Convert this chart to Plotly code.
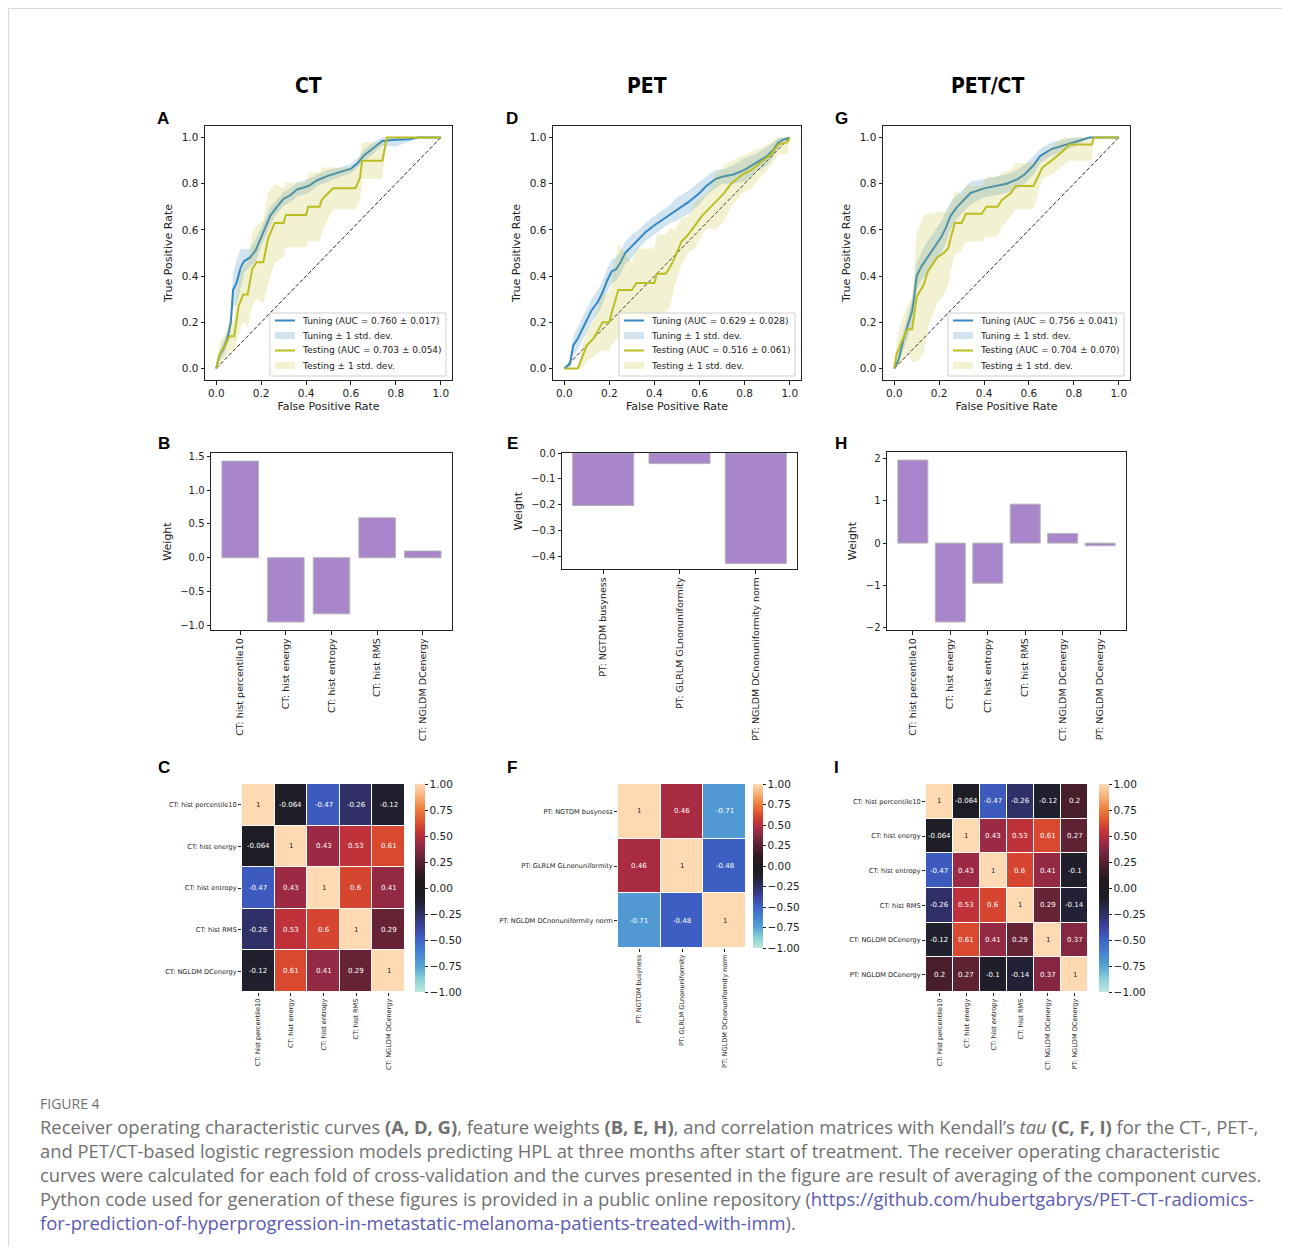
import plotly.graph_objects as go

W, H, OFF = 1274, 1238, 8
def px(x): return (x - OFF) / W
def py(y): return 1 - (y - OFF) / H

FONT = "DejaVu Sans"
TXT = "#222222"

# ---------------- ROC data (mean fpr/tpr and std) ----------------
ct_tune_fpr = [0.0, 0.015, 0.03, 0.05, 0.065, 0.075, 0.09, 0.11, 0.125, 0.15, 0.175, 0.2, 0.22, 0.24, 0.27, 0.30, 0.33, 0.36, 0.41, 0.45, 0.5, 0.55, 0.6, 0.63, 0.66, 0.7, 0.74, 0.8, 0.86, 0.9, 1.0]
ct_tune_tpr = [0.0, 0.06, 0.08, 0.13, 0.2, 0.34, 0.37, 0.44, 0.465, 0.48, 0.51, 0.57, 0.61, 0.66, 0.70, 0.735, 0.75, 0.775, 0.79, 0.815, 0.835, 0.85, 0.865, 0.89, 0.925, 0.955, 0.985, 0.99, 0.993, 1.0, 1.0]
ct_tune_sd = [0.0, 0.02, 0.03, 0.03, 0.04, 0.07, 0.1, 0.08, 0.05, 0.04, 0.05, 0.04, 0.04, 0.04, 0.03, 0.03, 0.03, 0.03, 0.03, 0.025, 0.025, 0.02, 0.02, 0.02, 0.025, 0.025, 0.02, 0.03, 0.01, 0.0, 0.0]
ct_test_fpr = [0.0, 0.015, 0.04, 0.06, 0.08, 0.1, 0.12, 0.14, 0.16, 0.18, 0.21, 0.23, 0.26, 0.3, 0.31, 0.4, 0.41, 0.46, 0.47, 0.5, 0.52, 0.62, 0.64, 0.65, 0.74, 0.76, 1.0]
ct_test_tpr = [0.0, 0.06, 0.1, 0.14, 0.14, 0.27, 0.32, 0.32, 0.43, 0.46, 0.46, 0.56, 0.63, 0.63, 0.665, 0.665, 0.70, 0.70, 0.73, 0.76, 0.78, 0.78, 0.825, 0.90, 0.90, 1.0, 1.0]
ct_test_sd = [0.0, 0.05, 0.05, 0.06, 0.07, 0.12, 0.12, 0.14, 0.16, 0.16, 0.18, 0.2, 0.17, 0.15, 0.14, 0.14, 0.15, 0.15, 0.14, 0.11, 0.09, 0.09, 0.1, 0.08, 0.08, 0.0, 0.0]

pet_tune_fpr = [0.0, 0.025, 0.04, 0.06, 0.08, 0.1, 0.12, 0.15, 0.17, 0.19, 0.21, 0.23, 0.25, 0.27, 0.3, 0.33, 0.36, 0.4, 0.43, 0.47, 0.5, 0.55, 0.6, 0.63, 0.67, 0.7, 0.75, 0.8, 0.85, 0.9, 0.93, 0.95, 0.97, 1.0]
pet_tune_tpr = [0.0, 0.02, 0.1, 0.13, 0.17, 0.21, 0.25, 0.29, 0.33, 0.38, 0.42, 0.43, 0.46, 0.50, 0.53, 0.56, 0.59, 0.62, 0.64, 0.67, 0.69, 0.72, 0.76, 0.79, 0.82, 0.83, 0.84, 0.86, 0.89, 0.92, 0.95, 0.98, 0.99, 1.0]
pet_tune_sd = [0.0, 0.02, 0.04, 0.05, 0.05, 0.05, 0.05, 0.05, 0.05, 0.05, 0.05, 0.05, 0.05, 0.05, 0.05, 0.04, 0.04, 0.04, 0.04, 0.04, 0.05, 0.05, 0.05, 0.04, 0.04, 0.03, 0.04, 0.05, 0.04, 0.04, 0.03, 0.02, 0.01, 0.0]
pet_test_fpr = [0.0, 0.06, 0.08, 0.1, 0.13, 0.17, 0.2, 0.21, 0.24, 0.3, 0.32, 0.4, 0.41, 0.45, 0.47, 0.49, 0.52, 0.55, 0.58, 0.61, 0.64, 0.67, 0.71, 0.74, 0.79, 0.83, 0.88, 0.92, 0.95, 0.99, 1.0]
pet_test_tpr = [0.0, 0.0, 0.05, 0.1, 0.13, 0.2, 0.2, 0.24, 0.34, 0.34, 0.37, 0.37, 0.41, 0.41, 0.44, 0.48, 0.55, 0.58, 0.62, 0.66, 0.69, 0.72, 0.76, 0.8, 0.84, 0.86, 0.9, 0.93, 0.97, 0.98, 1.0]
pet_test_sd = [0.0, 0.0, 0.05, 0.07, 0.08, 0.12, 0.13, 0.14, 0.2, 0.12, 0.15, 0.15, 0.17, 0.17, 0.17, 0.12, 0.1, 0.08, 0.1, 0.08, 0.08, 0.12, 0.12, 0.1, 0.08, 0.08, 0.06, 0.05, 0.04, 0.05, 0.0]

petct_tune_fpr = [0.0, 0.02, 0.04, 0.06, 0.08, 0.09, 0.1, 0.12, 0.14, 0.17, 0.19, 0.21, 0.23, 0.25, 0.28, 0.31, 0.34, 0.4, 0.45, 0.5, 0.55, 0.58, 0.62, 0.65, 0.7, 0.8, 0.87, 1.0]
petct_tune_tpr = [0.0, 0.04, 0.12, 0.18, 0.25, 0.32, 0.4, 0.44, 0.47, 0.51, 0.54, 0.57, 0.61, 0.66, 0.70, 0.73, 0.76, 0.78, 0.79, 0.80, 0.82, 0.84, 0.88, 0.92, 0.95, 0.98, 1.0, 1.0]
petct_tune_sd = [0.0, 0.02, 0.04, 0.05, 0.05, 0.06, 0.06, 0.06, 0.07, 0.07, 0.07, 0.07, 0.07, 0.06, 0.05, 0.05, 0.05, 0.04, 0.04, 0.04, 0.04, 0.04, 0.04, 0.03, 0.03, 0.02, 0.0, 0.0]
petct_test_fpr = [0.0, 0.01, 0.03, 0.05, 0.06, 0.08, 0.1, 0.13, 0.15, 0.17, 0.19, 0.22, 0.24, 0.25, 0.27, 0.3, 0.32, 0.39, 0.41, 0.46, 0.48, 0.52, 0.54, 0.62, 0.64, 0.66, 0.7, 0.75, 0.78, 0.88, 0.89, 1.0]
petct_test_tpr = [0.0, 0.06, 0.11, 0.15, 0.17, 0.17, 0.31, 0.36, 0.42, 0.45, 0.48, 0.5, 0.52, 0.56, 0.63, 0.63, 0.67, 0.67, 0.70, 0.70, 0.73, 0.76, 0.79, 0.79, 0.83, 0.87, 0.90, 0.94, 0.97, 0.97, 1.0, 1.0]
petct_test_sd = [0.0, 0.05, 0.09, 0.1, 0.1, 0.14, 0.28, 0.3, 0.25, 0.22, 0.2, 0.18, 0.16, 0.14, 0.14, 0.12, 0.12, 0.12, 0.13, 0.13, 0.12, 0.1, 0.1, 0.1, 0.07, 0.05, 0.06, 0.06, 0.07, 0.07, 0.0, 0.0]

auc_tuning = [0.760, 0.629, 0.756]
auc_tuning_sd = [0.017, 0.028, 0.041]
auc_testing = [0.703, 0.516, 0.704]
auc_testing_sd = [0.054, 0.061, 0.070]

# ---------------- feature weights ----------------
ct_feats = ["CT: hist percentile10", "CT: hist energy", "CT: hist entropy", "CT: hist RMS", "CT: NGLDM DCenergy"]
pet_feats = ["PT: NGTDM busyness", "PT: GLRLM GLnonuniformity", "PT: NGLDM DCnonuniformity norm"]
petct_feats = ["CT: hist percentile10", "CT: hist energy", "CT: hist entropy", "CT: hist RMS", "CT: NGLDM DCenergy", "PT: NGLDM DCenergy"]
ct_weights = [1.43, -0.95, -0.83, 0.59, 0.10]
pet_weights = [-0.203, -0.041, -0.427]
petct_weights = [1.97, -1.87, -0.95, 0.925, 0.227, -0.063]

# ---------------- Kendall tau matrices ----------------
ct_corr = [[1, -0.064, -0.47, -0.26, -0.12],
           [-0.064, 1, 0.43, 0.53, 0.61],
           [-0.47, 0.43, 1, 0.6, 0.41],
           [-0.26, 0.53, 0.6, 1, 0.29],
           [-0.12, 0.61, 0.41, 0.29, 1]]
pet_corr = [[1, 0.46, -0.71],
            [0.46, 1, -0.48],
            [-0.71, -0.48, 1]]
petct_corr = [[1, -0.064, -0.47, -0.26, -0.12, 0.2],
              [-0.064, 1, 0.43, 0.53, 0.61, 0.27],
              [-0.47, 0.43, 1, 0.6, 0.41, -0.1],
              [-0.26, 0.53, 0.6, 1, 0.29, -0.14],
              [-0.12, 0.61, 0.41, 0.29, 1, 0.37],
              [0.2, 0.27, -0.1, -0.14, 0.37, 1]]

colorbar_ticks = [1.0, 0.75, 0.5, 0.25, 0.0, -0.25, -0.5, -0.75, -1.0]

icefire = [
    [0.0, "#bde7dc"], [0.06, "#8ed2d8"], [0.125, "#55a3d4"], [0.19, "#4582d0"],
    [0.25, "#3e63c9"], [0.31, "#3a45a0"], [0.375, "#2e2e62"], [0.44, "#201f2d"],
    [0.5, "#1c1b1c"], [0.56, "#2c1b20"], [0.6, "#481e2a"], [0.635, "#5e2232"],
    [0.685, "#852741"], [0.715, "#9c2a44"], [0.73, "#a92b42"], [0.765, "#c0323a"],
    [0.8, "#d6452f"], [0.875, "#ee7b3a"], [0.94, "#f8af78"], [1.0, "#fed9b2"],
]

TUNE = "#3488c4"
TEST = "#bcbd22"
TUNE_FILL = "rgba(31,119,180,0.2)"
TEST_FILL = "rgba(188,189,34,0.2)"
BAR = "#a985cb"

fig = go.Figure()

def ax(**kw):
    d = dict(showline=True, mirror=True, linecolor=TXT, linewidth=1, ticks="outside",
             ticklen=3.5, tickwidth=1, tickcolor=TXT, showgrid=False, zeroline=False,
             automargin=False, fixedrange=True,
             tickfont=dict(family=FONT, size=10.5, color=TXT))
    d.update(kw)
    return d

def axname(i):
    return ("x", "y") if i == 1 else (f"x{i}", f"y{i}")

layout_axes = {}
shapes = []
annotations = []

# ---------------- ROC panels ----------------
roc_boxes = [(205, 452), (553, 801), (883, 1130)]
roc_data = [
    (ct_tune_fpr, ct_tune_tpr, ct_tune_sd, ct_test_fpr, ct_test_tpr, ct_test_sd),
    (pet_tune_fpr, pet_tune_tpr, pet_tune_sd, pet_test_fpr, pet_test_tpr, pet_test_sd),
    (petct_tune_fpr, petct_tune_tpr, petct_tune_sd, petct_test_fpr, petct_test_tpr, petct_test_sd),
]
for k in range(3):
    i = k + 1
    xa, ya = axname(i)
    f1, t1, s1, f2, t2, s2 = roc_data[k]
    fig.add_trace(go.Scatter(x=[0, 1], y=[0, 1], mode="lines", xaxis=xa, yaxis=ya,
                             line=dict(color="rgba(0,0,0,0.85)", width=1, dash="4px,2px"),
                             showlegend=False, hoverinfo="skip"))
    entries = []
    for (f, t, s, col, fill, lab, auc, aucsd) in [
        (f1, t1, s1, TUNE, TUNE_FILL, "Tuning", auc_tuning[k], auc_tuning_sd[k]),
        (f2, t2, s2, TEST, TEST_FILL, "Testing", auc_testing[k], auc_testing_sd[k])]:
        lo = [max(a - b, 0) for a, b in zip(t, s)]
        hi = [min(a + b, 1) for a, b in zip(t, s)]
        fig.add_trace(go.Scatter(x=f, y=lo, mode="lines", line=dict(width=0, color=fill),
                                 xaxis=xa, yaxis=ya, showlegend=False, hoverinfo="skip"))
        fig.add_trace(go.Scatter(x=f, y=hi, mode="lines", line=dict(width=0, color=fill),
                                 fill="tonexty", fillcolor=fill, xaxis=xa, yaxis=ya,
                                 name=f"{lab} ± 1 std. dev.", showlegend=False))
        fig.add_trace(go.Scatter(x=f, y=t, mode="lines", line=dict(width=2, color=col),
                                 xaxis=xa, yaxis=ya, showlegend=False,
                                 name=f"{lab} (AUC = {auc:.3f} ± {aucsd:.3f})"))
        entries.append(("line", col, f"{lab} (AUC = {auc:.3f} ± {aucsd:.3f})"))
        entries.append(("patch", fill, f"{lab} ± 1 std. dev."))
    l, r = roc_boxes[k]
    layout_axes["xaxis" + ("" if i == 1 else str(i))] = ax(
        domain=[px(l), px(r)], anchor=ya, range=[-0.05, 1.05], tickvals=[0, 0.2, 0.4, 0.6, 0.8, 1.0],
        tickformat=".1f", title=dict(text="False Positive Rate", font=dict(family=FONT, size=11, color=TXT), standoff=4))
    layout_axes["yaxis" + ("" if i == 1 else str(i))] = ax(
        domain=[py(380), py(126)], anchor=xa, range=[-0.05, 1.05], tickvals=[0, 0.2, 0.4, 0.6, 0.8, 1.0],
        tickformat=".1f", title=dict(text="True Positive Rate", font=dict(family=FONT, size=11, color=TXT), standoff=6))
    # legend box (matplotlib-style, lower right)
    bx0, bx1, by0, by1 = r - 182, r - 6, 313, 376
    shapes.append(dict(type="rect", xref="paper", yref="paper", x0=px(bx0), x1=px(bx1),
                       y0=py(by1), y1=py(by0), line=dict(color="#cfcfcf", width=1),
                       fillcolor="rgba(255,255,255,0.8)", layer="above"))
    for j, (kind, col, label) in enumerate(entries):
        ye = 320.5 + 15 * j
        hx0, hx1 = bx0 + 5, bx0 + 25
        if kind == "line":
            shapes.append(dict(type="line", xref="paper", yref="paper", x0=px(hx0), x1=px(hx1),
                               y0=py(ye), y1=py(ye), line=dict(color=col, width=2), layer="above"))
        else:
            shapes.append(dict(type="rect", xref="paper", yref="paper", x0=px(hx0), x1=px(hx1),
                               y0=py(ye + 3.5), y1=py(ye - 3.5), line=dict(width=0),
                               fillcolor=col, layer="above"))
        annotations.append(dict(xref="paper", yref="paper", x=px(hx1 + 5), y=py(ye), text=label,
                                showarrow=False, xanchor="left", yanchor="middle",
                                font=dict(family=FONT, size=9, color=TXT)))

# ---------------- bar panels ----------------
bar_boxes = [((211, 452), (453, 630)), ((562, 797), (453, 569)), ((887, 1126), (452, 630))]
bar_data = [(ct_feats, ct_weights, 0.5, ".1f"), (pet_feats, pet_weights, 0.1, ".1f"), (petct_feats, petct_weights, 1, "d")]
for k in range(3):
    i = k + 4
    xa, ya = axname(i)
    feats, w, dt, fmt = bar_data[k]
    fig.add_trace(go.Bar(x=list(range(len(feats))), y=w, width=0.8, xaxis=xa, yaxis=ya,
                         marker=dict(color=BAR, line=dict(color="#b4b4b4", width=1)),
                         showlegend=False))
    n = len(feats)
    xpad = 0.05 * (n - 0.2)
    lo, hi = min(w + [0]), max(w + [0])
    pad = 0.05 * (hi - lo)
    r0 = lo - pad if lo < 0 else lo
    r1 = hi + pad if hi > 0 else hi
    (l, r), (t, b) = bar_boxes[k]
    layout_axes["xaxis" + str(i)] = ax(domain=[px(l), px(r)], anchor=ya, range=[-0.4 - xpad, n - 0.6 + xpad],
                                     tickvals=list(range(n)), ticktext=feats, tickangle=-90,
                                     tickfont=dict(family=FONT, size=9.5, color=TXT))
    layout_axes["yaxis" + str(i)] = ax(domain=[py(b), py(t)], anchor=xa, range=[r0, r1], dtick=dt,
                                     tickformat=fmt, tickfont=dict(family=FONT, size=10, color=TXT),
                                     title=dict(text="Weight", font=dict(family=FONT, size=11, color=TXT), standoff=6))

# ---------------- heatmaps ----------------
heat_boxes = [((242, 405), (784, 992), 415), ((618, 746), (784, 948), 753), ((926, 1088), (784, 992), 1099)]
heat_data = [(ct_feats, ct_corr), (pet_feats, pet_corr), (petct_feats, petct_corr)]
for k in range(3):
    i = k + 7
    xa, ya = axname(i)
    feats, z = heat_data[k]
    (l, r), (t, b), cbx = heat_boxes[k]
    fig.add_trace(go.Heatmap(z=z, x=feats, y=feats, xaxis=xa, yaxis=ya, zmin=-1, zmax=1,
                             colorscale=icefire, xgap=1, ygap=1, hoverinfo="skip",
                             colorbar=dict(x=px(cbx), xanchor="left", y=py(t), yanchor="top",
                                           len=(b - t) / H, lenmode="fraction", thickness=10,
                                           thicknessmode="pixels", outlinewidth=0, xpad=0, ypad=0,
                                           tickvals=colorbar_ticks, tickformat=".2f",
                                           ticks="outside", ticklen=3, tickcolor=TXT,
                                           tickfont=dict(family=FONT, size=10.5, color=TXT))))
    for ri, row in enumerate(z):
        for ci, v in enumerate(row):
            annotations.append(dict(xref=xa, yref=ya, x=feats[ci], y=feats[ri],
                                    text=format(v, ".2g"), showarrow=False,
                                    font=dict(family=FONT, size=7, color="#262626" if v >= 0.9 else "white")))
    hfont = dict(family=FONT, size=6.6, color=TXT)
    layout_axes["xaxis" + str(i)] = dict(domain=[px(l), px(r)], anchor=ya, showline=False, showgrid=False,
                                         zeroline=False, ticks="outside", ticklen=3, tickcolor=TXT,
                                         tickangle=-90, tickfont=hfont, automargin=False, fixedrange=True)
    layout_axes["yaxis" + str(i)] = dict(domain=[py(b), py(t)], anchor=xa, showline=False, showgrid=False,
                                         zeroline=False, ticks="outside", ticklen=3, tickcolor=TXT,
                                         autorange="reversed", tickfont=hfont, automargin=False, fixedrange=True)

# ---------------- titles / letters ----------------
for txt, x in [("CT", 308), ("PET", 647), ("PET/CT", 987)]:
    annotations.append(dict(xref="paper", yref="paper", x=px(x), y=py(86), text=f"<b>{txt}</b>",
                            showarrow=False, xanchor="center", yanchor="middle",
                            font=dict(family="DejaVu Sans Condensed, Liberation Sans Narrow, DejaVu Sans", size=21, color="black")))
for txt, x, y in [("A", 163, 119), ("D", 512, 119), ("G", 841, 119),
                  ("B", 164, 444), ("E", 512, 444), ("H", 841, 444),
                  ("C", 164, 768), ("F", 512, 768), ("I", 836, 768)]:
    annotations.append(dict(xref="paper", yref="paper", x=px(x), y=py(y), text=f"<b>{txt}</b>",
                            showarrow=False, xanchor="center", yanchor="middle",
                            font=dict(family="Liberation Sans, Arial", size=17, color="black")))

# ---------------- caption ----------------
LINK = "#5a5ab2"
CAP = "#707070"
CAPFONT = "Open Sans"
annotations.append(dict(xref="paper", yref="paper", x=px(38), y=py(1103), text="FIGURE 4",
                        showarrow=False, xanchor="left", yanchor="middle",
                        font=dict(family=CAPFONT, size=14, color=CAP)))
cap_lines = [
    "Receiver operating characteristic curves <b>(A, D, G)</b>, feature weights <b>(B, E, H)</b>, and correlation matrices with Kendall’s <i>tau</i> <b>(C, F, I)</b> for the CT-, PET-,",
    "and PET/CT-based logistic regression models predicting HPL at three months after start of treatment. The receiver operating characteristic",
    "curves were calculated for each fold of cross-validation and the curves presented in the figure are result of averaging of the component curves.",
    f"Python code used for generation of these figures is provided in a public online repository (<span style='color:{LINK}'>https://github.com/hubertgabrys/PET-CT-radiomics-</span>",
    f"<span style='color:{LINK}'>for-prediction-of-hyperprogression-in-metastatic-melanoma-patients-treated-with-imm</span>).",
]
for j, line in enumerate(cap_lines):
    annotations.append(dict(xref="paper", yref="paper", x=px(38), y=py(1126 + 24 * j), text=line,
                            showarrow=False, xanchor="left", yanchor="middle", align="left",
                            font=dict(family=CAPFONT, size=18.4, color=CAP)))

shapes.append(dict(type="rect", xref="paper", yref="paper", x0=0, x1=1.2, y0=-0.2, y1=1,
                   line=dict(color="#d9d9d9", width=2), fillcolor="rgba(0,0,0,0)"))

fig.update_layout(
    width=W, height=H, margin=dict(l=0, r=0, t=0, b=0),
    paper_bgcolor="white", plot_bgcolor="white", template="none",
    showlegend=False, annotations=annotations, shapes=shapes,
    font=dict(family=FONT, color=TXT),
    **layout_axes,
)

fig.write_html("out.html")
